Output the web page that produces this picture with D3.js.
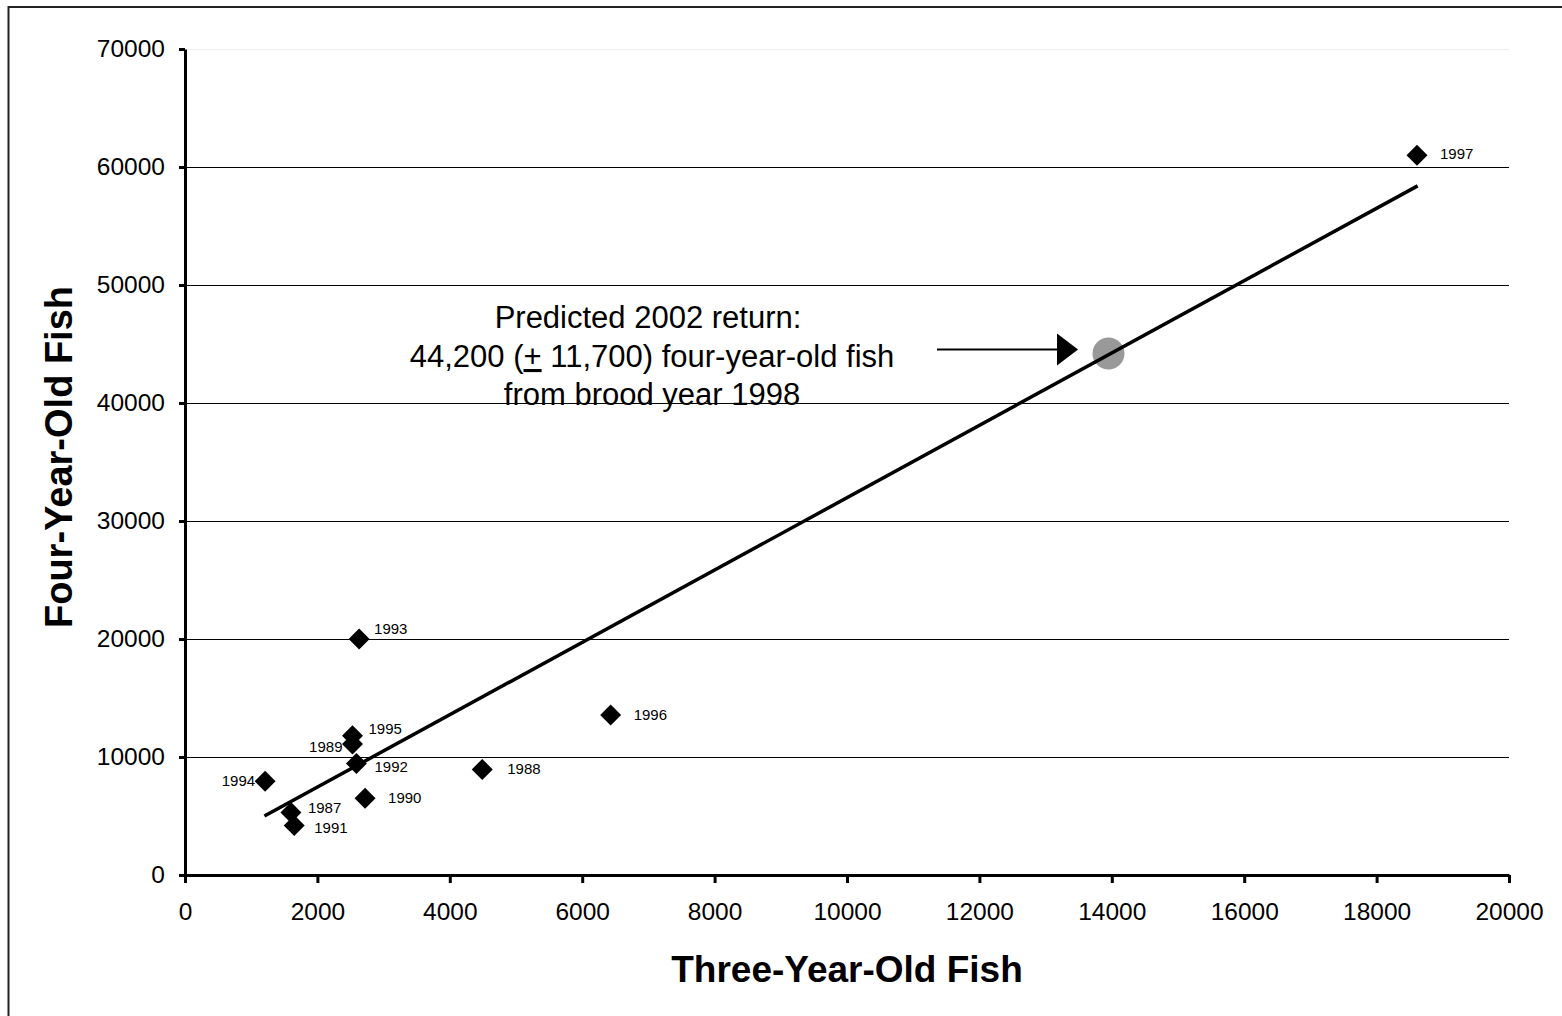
<!DOCTYPE html>
<html>
<head>
<meta charset="utf-8">
<script src="https://cdn.jsdelivr.net/npm/d3@7"></script>
<style>
    body { margin: 0; background: #fff; }
    text { font-family: "Liberation Sans", Arial, sans-serif; fill: #000; }
</style>
</head>
<body>
<div id="chart"></div>
<script>
// data
const years = [1987, 1988, 1989, 1990, 1991, 1992, 1993, 1994, 1995, 1996, 1997];
const threeYearOld = [1600, 4490, 2530, 2720, 1650, 2590, 2630, 1210, 2530, 6430, 18610];
const fourYearOld = [5300, 8950, 11100, 6500, 4200, 9450, 20000, 7950, 11800, 13550, 61000];

// fitted line end points and the prediction
const trendX = [1200, 18620];
const trendY = [5000, 58400];
const predicted = {x: 13950, y: 44200};

const xTicks = d3.range(0, 20001, 2000);
const yTicks = d3.range(0, 70001, 10000);

// where each year label sits relative to its marker (layout only)
const labelPos = {
    1987: [17, 1, 'start'], 1988: [25, 5, 'start'], 1989: [-10, 8, 'end'],
    1990: [23, 5, 'start'], 1991: [20, 8, 'start'], 1992: [18, 9, 'start'],
    1993: [15, -5, 'start'], 1994: [-10, 5, 'end'], 1995: [16, -2, 'start'],
    1996: [23, 5, 'start'], 1997: [23, 4, 'start']
};

const points = years.map((y, i) => ({year: y, x: threeYearOld[i], y: fourYearOld[i]}));

drawChart(points);

function drawChart(data){
    const width = 1562, height = 1016;

    const svg = d3.select("#chart")
        .append("svg")
        .attr('width', width)
        .attr('height', height);

    // outer frame (runs off the right and bottom)
    svg.append("rect")
        .attr("x", 8.5).attr("y", 7)
        .attr("width", 1700).attr("height", 1200)
        .attr("fill", "none")
        .attr("stroke", "#222")
        .attr("stroke-width", 2);

    const xScale = d3.scaleLinear().domain([0, 20000]).range([185, 1509]);
    const yScale = d3.scaleLinear().domain([0, 70000]).range([875, 49]);

    // gridlines
    svg.selectAll(".grid")
        .data(yTicks.filter(d => d > 0))
        .enter()
        .append("line")
        .attr("class", "grid")
        .attr("x1", xScale(0)).attr("x2", xScale(20000))
        .attr("y1", d => yScale(d) + 0.5).attr("y2", d => yScale(d) + 0.5)
        .attr("stroke", d => d === 70000 ? "#eee" : "#000")
        .attr("stroke-width", 1)
        .attr("shape-rendering", "crispEdges");

    // axes
    const xAxis = d3.axisBottom(xScale)
        .tickValues(xTicks)
        .tickSize(8)
        .tickSizeOuter(0)
        .tickPadding(20)
        .tickFormat(d3.format("d"));

    const yAxis = d3.axisLeft(yScale)
        .tickValues(yTicks)
        .tickSize(6)
        .tickSizeOuter(0)
        .tickPadding(14)
        .tickFormat(d3.format("d"));

    const xg = svg.append("g")
        .attr('class', 'x-axis')
        .attr('transform', `translate(0, ${yScale(0)})`)
        .call(xAxis);

    const yg = svg.append("g")
        .attr('class', 'y-axis')
        .attr('transform', `translate(${xScale(0)}, 0)`)
        .call(yAxis);

    [xg, yg].forEach(g => {
        g.select(".domain").attr("stroke", "#000").attr("stroke-width", 3);
        g.selectAll(".tick line").attr("stroke", "#000").attr("stroke-width", 3);
        g.selectAll(".tick text")
            .attr("font-size", "24.5px")
            .attr("font-family", '"Liberation Sans", Arial, sans-serif')
            .attr("fill", "#000");
    });

    // axis titles
    svg.append("text")
        .attr("x", 847).attr("y", 982)
        .attr("text-anchor", "middle")
        .attr("font-size", "37px")
        .attr("font-weight", "bold")
        .text("Three-Year-Old Fish");

    svg.append("text")
        .attr("transform", "translate(72, 457) rotate(-90)")
        .attr("text-anchor", "middle")
        .attr("font-size", "38px")
        .attr("font-weight", "bold")
        .text("Four-Year-Old Fish");

    // trend line
    const line = d3.line()
        .x(d => xScale(d[0]))
        .y(d => yScale(d[1]));
    const trend = trendX.map((x, i) => [x, trendY[i]]);

    // predicted point
    svg.append("circle")
        .attr("cx", xScale(predicted.x))
        .attr("cy", yScale(predicted.y))
        .attr("r", 16)
        .attr("fill", "#999");

    svg.append("path")
        .attr("d", line(trend))
        .attr("stroke", "#000")
        .attr("stroke-width", 3.5)
        .attr("fill", "none");

    // markers
    const diamond = d3.symbol(d3.symbolSquare, 220);
    svg.selectAll(".pt")
        .data(data)
        .enter()
        .append("path")
        .attr("class", "pt")
        .attr("d", diamond)
        .attr("transform", d => `translate(${xScale(d.x)},${yScale(d.y)}) rotate(45)`)
        .attr("fill", "#000");

    svg.selectAll(".label")
        .data(data)
        .enter()
        .append("text")
        .attr("class", "label")
        .attr("x", d => xScale(d.x) + labelPos[d.year][0])
        .attr("y", d => yScale(d.y) + labelPos[d.year][1])
        .attr("text-anchor", d => labelPos[d.year][2])
        .attr("font-size", "15px")
        .text(d => d.year);

    // annotation
    const note = svg.append("text")
        .attr("text-anchor", "middle")
        .attr("font-size", "31px");
    note.append("tspan").attr("x", 648).attr("y", 328).text("Predicted 2002 return:");
    const l2 = note.append("tspan").attr("x", 652).attr("y", 367);
    l2.append("tspan").text("44,200 (");
    l2.append("tspan").attr("text-decoration", "underline").text("+");
    l2.append("tspan").text(" 11,700) four-year-old fish");
    note.append("tspan").attr("x", 652).attr("y", 405).text("from brood year 1998");

    // arrow pointing at the prediction
    const ay = yScale(predicted.y) - 4;
    svg.append("line")
        .attr("x1", 937).attr("x2", 1060)
        .attr("y1", ay).attr("y2", ay)
        .attr("stroke", "#000")
        .attr("stroke-width", 2);
    svg.append("path")
        .attr("d", `M1057,${ay - 16}L1078,${ay}L1057,${ay + 16}Z`)
        .attr("fill", "#000");
}
</script>
</body>
</html>
